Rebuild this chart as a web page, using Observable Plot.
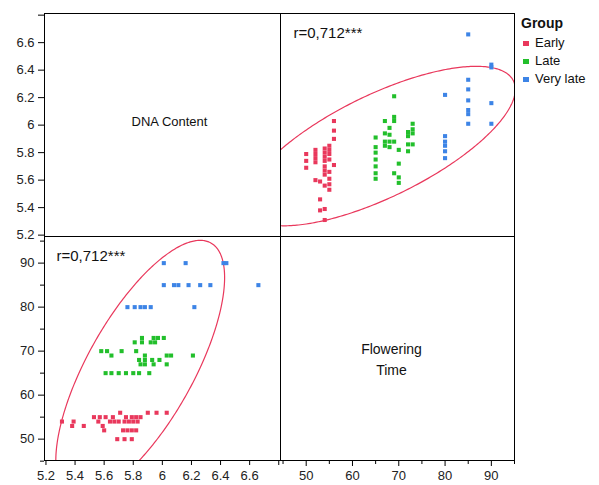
<!DOCTYPE html>
<html><head><meta charset="utf-8">
<script src="https://cdn.jsdelivr.net/npm/d3@7"></script>
<script src="https://cdn.jsdelivr.net/npm/@observablehq/plot@0.6"></script>
<style>
body{margin:0;background:#fff;}
#chart{position:relative;width:599px;height:485px;font-family:"Liberation Sans",Arial,sans-serif;}
#chart svg{position:absolute;left:0;top:0;}
.legend{position:absolute;left:521px;top:14px;font-size:13px;color:#111;line-height:18px;}
.legend .ttl{font-weight:bold;font-size:14px;margin-bottom:2px;}
.legend .sw{display:inline-block;width:6px;height:5px;margin:0 6px 1px 2px;vertical-align:middle;}
</style></head><body><div id="chart"></div>
<script>
// ---- data ----
const groups = ["Early", "Late", "Very late"];
const groupColors = ["#e9385c", "#22bf2b", "#3d84e6"];

// Flowering time (days) and DNA content values observed at each flowering time
const earlyFlowering = [50, 52, 53, 54, 55, 56];
const earlyDNA = [
  [5.69, 5.74, 5.79],
  [5.60, 5.73, 5.76, 5.79, 5.82],
  [5.38, 5.46, 5.59],
  [5.31, 5.39, 5.56, 5.64, 5.67, 5.70, 5.74, 5.77, 5.80, 5.83],
  [5.53, 5.57, 5.61, 5.66, 5.75, 5.79, 5.82, 5.85],
  [5.71, 5.90, 5.96, 6.03]
];
const lateFlowering = [65, 67, 68, 69, 70, 72, 73];
const lateDNA = [
  [5.61, 5.65, 5.70, 5.75, 5.80, 5.84, 5.91],
  [5.85, 5.88, 5.94, 6.03],
  [5.84, 5.88, 5.93, 5.98],
  [5.65, 5.88, 6.03, 6.06, 6.21],
  [5.58, 5.62, 5.72, 5.82],
  [5.81, 5.86, 5.92, 5.95],
  [5.86, 5.94, 5.97, 6.01]
];
const veryLateFlowering = [80, 85, 90];
const veryLateDNA = [
  [5.76, 5.81, 5.85, 5.88, 5.92, 6.22],
  [6.01, 6.08, 6.11, 6.18, 6.26, 6.33, 6.66],
  [6.01, 6.16, 6.42, 6.44]
];

const dnaTicks = [5.2, 5.4, 5.6, 5.8, 6, 6.2, 6.4, 6.6, 6.8];
const dnaTickLabels = ["5.2", "5.4", "5.6", "5.8", "6", "6.2", "6.4", "6.6", ""];
const flowerMajorTicks = [50, 60, 70, 80, 90];
const flowerMinorTicks = [45, 55, 65, 75, 85, 95];
const corrLabel = "r=0,712***";
const dnaTitle = "DNA Content";
const flowerTitle = "Flowering\nTime";

// ---- build table ----
function rowsFor(group, fl, dna) {
  return fl.flatMap((f, i) => dna[i].map(d => ({group, flower: f, dna: d})));
}
const rows = [
  ...rowsFor(groups[0], earlyFlowering, earlyDNA),
  ...rowsFor(groups[1], lateFlowering, lateDNA),
  ...rowsFor(groups[2], veryLateFlowering, veryLateDNA)
];

// 95% density ellipse from the data
function densityEllipse(data, p) {
  const n = data.length;
  const mx = d3.mean(data, d => d.flower), my = d3.mean(data, d => d.dna);
  const sxx = d3.sum(data, d => (d.flower - mx) ** 2) / (n - 1);
  const syy = d3.sum(data, d => (d.dna - my) ** 2) / (n - 1);
  const sxy = d3.sum(data, d => (d.flower - mx) * (d.dna - my)) / (n - 1);
  const a = Math.sqrt(sxx), b = sxy / a, c = Math.sqrt(Math.max(syy - b * b, 0));
  const k = Math.sqrt(-2 * Math.log(1 - p));
  return d3.range(0, 361).map(i => {
    const t = i * Math.PI / 180, u = Math.cos(t), v = Math.sin(t);
    return {flower: mx + k * a * u, dna: my + k * (b * u + c * v)};
  });
}
const ell = densityEllipse(rows, 0.95);

// ---- layout ----
const W = 599, H = 485;
const xL = 44, xM = 280, xR = 514, yT = 13, yM = 236, yB = 460;
const dnaDomain = [5.19, 6.812];
const flowerDomainX = [44.45, 95.0];
const flowerDomainY = [45.15, 96.05];
const color = {domain: groups, range: groupColors};
const ink = "#222";

function panel(box, x, y, marks) {
  return Plot.plot({
    width: W, height: H,
    marginLeft: box[0], marginRight: W - box[1], marginTop: box[2], marginBottom: H - box[3],
    x, y, color,
    style: {background: "none", overflow: "visible", fontFamily: "Liberation Sans, Arial, sans-serif", fontSize: "13px"},
    marks
  });
}
const frame = Plot.frame({stroke: "#000", strokeWidth: 1});

const tl = panel([xL, xM, yT, yM],
  {domain: [0, 1], axis: null},
  {domain: dnaDomain},
  [
    Plot.axisY(dnaTicks, {anchor: "left", tickSize: 6, tickPadding: 4, tickFormat: d => dnaTickLabels[dnaTicks.indexOf(d)], fill: ink, stroke: "#000", fontSize: 13, label: null}),
    Plot.text([dnaTitle], {frameAnchor: "middle", text: d => d, dx: 7, dy: -3, fontSize: 13, fill: "#111"}),
    frame
  ]);

const tr = panel([xM, xR, yT, yM],
  {domain: flowerDomainX, axis: null},
  {domain: dnaDomain, axis: null},
  [
    Plot.line(ell, {x: "flower", y: "dna", stroke: groupColors[0], strokeWidth: 1.2, clip: true}),
    Plot.dot(rows, {x: "flower", y: "dna", fill: "group", symbol: "square", r: 2.3}),
    Plot.text([corrLabel], {frameAnchor: "top-left", text: d => d, dx: 13, dy: 14, fontSize: 15, fill: "#111"}),
    frame
  ]);

const bl = panel([xL, xM, yM, yB],
  {domain: dnaDomain},
  {domain: flowerDomainY},
  [
    Plot.axisY(flowerMajorTicks, {anchor: "left", tickSize: 6, tickPadding: 4, fill: ink, stroke: "#000", fontSize: 13, label: null}),
    Plot.axisY(flowerMinorTicks, {anchor: "left", tickSize: 4, tickFormat: () => "", stroke: "#000", label: null}),
    Plot.axisX(dnaTicks, {anchor: "bottom", tickSize: 5, tickPadding: 5, tickFormat: d => dnaTickLabels[dnaTicks.indexOf(d)], fill: ink, stroke: "#000", fontSize: 13, label: null}),
    Plot.line(ell, {x: "dna", y: "flower", stroke: groupColors[0], strokeWidth: 1.2, clip: true}),
    Plot.dot(rows, {x: "dna", y: "flower", fill: "group", symbol: "square", r: 2.3}),
    Plot.text([corrLabel], {frameAnchor: "top-left", text: d => d, dx: 12, dy: 14, fontSize: 15, fill: "#111"}),
    frame
  ]);

const br = panel([xM, xR, yM, yB],
  {domain: flowerDomainX},
  {domain: [0, 1], axis: null},
  [
    Plot.axisX(flowerMajorTicks, {anchor: "bottom", tickSize: 6, tickPadding: 4, fill: ink, stroke: "#000", fontSize: 13, label: null}),
    Plot.axisX(flowerMinorTicks, {anchor: "bottom", tickSize: 4, tickFormat: () => "", stroke: "#000", label: null}),
    Plot.text([flowerTitle], {frameAnchor: "middle", text: d => d, dx: -6, dy: 9, fontSize: 14, lineHeight: 1.5, fill: "#111"}),
    frame
  ]);

const chart = document.getElementById("chart");
[tl, tr, bl, br].forEach(s => chart.appendChild(s));

const lg = document.createElement("div");
lg.className = "legend";
lg.innerHTML = `<div class="ttl">Group</div>` + groups.map((g, i) =>
  `<div><span class="sw" style="background:${groupColors[i]}"></span>${g}</div>`).join("");
chart.appendChild(lg);
</script>
</body></html>
